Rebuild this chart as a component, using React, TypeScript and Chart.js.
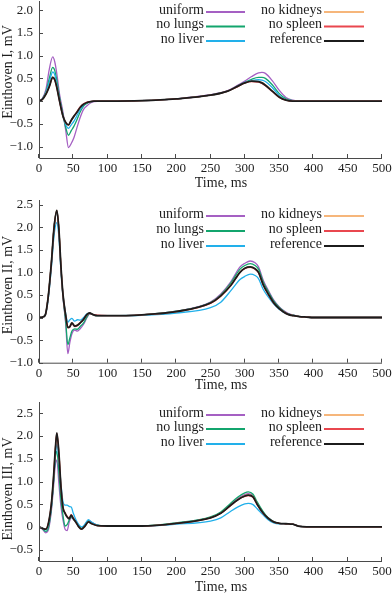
import React, { useEffect, useRef } from "react";
import { Chart, registerables } from "chart.js";

Chart.register(...registerables);

// ---------- series meta ----------
const SERIES_NAMES = ["uniform", "no lungs", "no liver", "no kidneys", "no spleen", "reference"];
const SERIES_COLORS = ["#a560c3", "#13a56d", "#22b0ea", "#f6b67b", "#e9474f", "#1c1c1c"];

const X_TICKS = [0, 50, 100, 150, 200, 250, 300, 350, 400, 450, 500];
const Y_TICKS_I = [-1, -0.5, 0, 0.5, 1, 1.5, 2];
const Y_TICKS_II = [-1, -0.5, 0, 0.5, 1, 1.5, 2, 2.5];
const Y_TICKS_III = [-0.5, 0, 0.5, 1, 1.5, 2, 2.5];

// ---------- Einthoven I ----------
const T1 = [0, 5, 10, 15, 20, 23, 26, 30, 35, 39, 43, 47, 51, 55, 60, 65, 70, 75, 80, 90, 100, 150, 200, 250, 275, 290, 300, 310, 320, 325, 330, 340, 350, 360, 370, 380, 400, 500];
const I_UNIFORM = [0, 0.06, 0.25, 0.7, 0.97, 0.86, 0.6, 0.15, -0.25, -0.65, -1.02, -0.93, -0.8, -0.6, -0.36, -0.18, -0.1, -0.04, -0.01, 0, 0, 0.01, 0.05, 0.14, 0.23, 0.35, 0.44, 0.54, 0.62, 0.63, 0.61, 0.45, 0.24, 0.08, 0.02, 0, 0, 0];
const I_LUNGS = [0, 0.05, 0.2, 0.5, 0.74, 0.67, 0.45, 0.08, -0.3, -0.58, -0.75, -0.65, -0.55, -0.42, -0.24, -0.11, -0.05, -0.02, 0, 0, 0, 0.01, 0.05, 0.13, 0.22, 0.33, 0.41, 0.48, 0.52, 0.52, 0.5, 0.36, 0.17, 0.05, 0.01, 0, 0, 0];
const I_LIVER = [0, 0.05, 0.18, 0.42, 0.64, 0.58, 0.36, 0.02, -0.34, -0.52, -0.6, -0.52, -0.44, -0.33, -0.19, -0.09, -0.03, -0.01, 0, 0, 0, 0.01, 0.05, 0.13, 0.22, 0.33, 0.41, 0.45, 0.47, 0.46, 0.43, 0.3, 0.13, 0.03, 0, 0, 0, 0];
const I_KIDNEYS = [0, 0.04, 0.16, 0.33, 0.53, 0.48, 0.31, 0.01, -0.33, -0.48, -0.53, -0.43, -0.34, -0.25, -0.14, -0.07, -0.03, -0.01, 0, 0, 0, 0.01, 0.05, 0.13, 0.22, 0.33, 0.4, 0.44, 0.43, 0.41, 0.36, 0.23, 0.1, 0.02, 0, 0, 0, 0];
const I_SPLEEN = [0, 0.04, 0.15, 0.32, 0.51, 0.46, 0.29, -0.01, -0.34, -0.48, -0.52, -0.42, -0.33, -0.24, -0.13, -0.06, -0.02, -0.01, 0, 0, 0, 0.01, 0.05, 0.13, 0.22, 0.32, 0.4, 0.43, 0.42, 0.39, 0.34, 0.21, 0.08, 0.02, 0, 0, 0, 0];
const I_REF = [0, 0.04, 0.15, 0.32, 0.52, 0.47, 0.3, 0.0, -0.33, -0.47, -0.52, -0.42, -0.33, -0.25, -0.14, -0.07, -0.03, -0.01, 0, 0, 0, 0.01, 0.05, 0.13, 0.22, 0.33, 0.4, 0.44, 0.43, 0.4, 0.35, 0.22, 0.09, 0.02, 0, 0, 0, 0];

// ---------- Einthoven II ----------
const T2 = [0, 5, 9, 13, 18, 22, 26, 29, 32, 35, 39, 42, 45, 48, 52, 56, 60, 65, 70, 74, 78, 85, 100, 150, 200, 250, 265, 280, 293, 300, 308, 315, 320, 327, 335, 342, 350, 356, 363, 371, 380, 390, 400, 500];
const II_UNIFORM = [0, 0.01, 0.05, 0.4, 1.2, 2.0, 2.36, 1.93, 1.1, 0.45, -0.15, -0.8, -0.55, -0.36, -0.28, -0.3, -0.25, -0.15, 0.0, 0.08, 0.07, 0.04, 0.04, 0.06, 0.14, 0.34, 0.52, 0.8, 1.12, 1.2, 1.25, 1.21, 1.12, 0.82, 0.58, 0.39, 0.24, 0.16, 0.09, 0.05, 0.02, 0.01, 0, 0];
const II_LUNGS = [0, 0.01, 0.05, 0.4, 1.2, 2.0, 2.36, 1.94, 1.11, 0.47, -0.1, -0.6, -0.45, -0.3, -0.25, -0.26, -0.2, -0.12, 0.02, 0.09, 0.07, 0.04, 0.04, 0.06, 0.14, 0.33, 0.5, 0.77, 1.07, 1.15, 1.19, 1.15, 1.07, 0.78, 0.55, 0.37, 0.23, 0.15, 0.08, 0.05, 0.02, 0.01, 0, 0];
const II_LIVER = [0, 0.01, 0.05, 0.36, 1.1, 1.82, 2.1, 1.78, 1.05, 0.5, 0.08, -0.1, -0.05, -0.02, -0.08, -0.05, -0.06, 0.0, 0.08, 0.1, 0.07, 0.04, 0.04, 0.05, 0.1, 0.22, 0.34, 0.6, 0.84, 0.91, 0.96, 0.93, 0.86, 0.62, 0.44, 0.3, 0.18, 0.12, 0.07, 0.04, 0.02, 0.01, 0, 0];
const II_KIDNEYS = [0, 0.01, 0.05, 0.41, 1.21, 2.01, 2.37, 1.96, 1.14, 0.5, 0.04, -0.21, -0.19, -0.12, -0.18, -0.16, -0.11, -0.04, 0.07, 0.1, 0.07, 0.04, 0.04, 0.06, 0.13, 0.32, 0.48, 0.73, 1.01, 1.09, 1.12, 1.08, 1.0, 0.73, 0.5, 0.33, 0.2, 0.13, 0.07, 0.04, 0.02, 0.01, 0, 0];
const II_SPLEEN = [0, 0.01, 0.05, 0.4, 1.19, 1.99, 2.36, 1.94, 1.12, 0.49, 0.03, -0.23, -0.21, -0.13, -0.2, -0.18, -0.12, -0.04, 0.06, 0.09, 0.07, 0.05, 0.04, 0.06, 0.13, 0.31, 0.47, 0.71, 1.0, 1.08, 1.11, 1.07, 0.99, 0.71, 0.49, 0.32, 0.2, 0.13, 0.07, 0.04, 0.02, 0.01, 0, 0];
const II_REF = [0, 0.01, 0.05, 0.4, 1.2, 2.0, 2.37, 1.95, 1.13, 0.5, 0.04, -0.22, -0.2, -0.12, -0.19, -0.17, -0.12, -0.04, 0.07, 0.1, 0.07, 0.04, 0.04, 0.06, 0.13, 0.32, 0.48, 0.72, 1.0, 1.09, 1.12, 1.08, 1.0, 0.72, 0.5, 0.33, 0.2, 0.13, 0.07, 0.04, 0.02, 0.01, 0, 0];

// ---------- Einthoven III ----------
const T3 = [0, 5, 10, 14, 18, 21, 24, 26, 29, 32, 35, 38, 41, 44, 47, 50, 54, 58, 62, 67, 72, 77, 85, 100, 150, 200, 250, 265, 278, 290, 300, 305, 312, 318, 327, 334, 342, 350, 360, 370, 380, 390, 400, 500];
const III_UNIFORM = [0, -0.05, -0.13, -0.05, 0.35, 0.85, 1.4, 1.47, 0.95, 0.45, 0.15, -0.05, -0.08, 0.1, 0.2, 0.2, 0.12, 0.02, -0.04, 0.05, 0.14, 0.1, 0.04, 0.02, 0.02, 0.08, 0.21, 0.31, 0.48, 0.63, 0.71, 0.73, 0.69, 0.52, 0.31, 0.2, 0.11, 0.08, 0.07, 0.06, 0.01, 0, 0, 0];
const III_LUNGS = [0, -0.04, -0.1, 0.0, 0.4, 0.95, 1.55, 1.66, 1.2, 0.6, 0.25, 0.02, 0.05, 0.15, 0.22, 0.18, 0.12, 0.02, -0.03, 0.05, 0.13, 0.09, 0.04, 0.02, 0.02, 0.09, 0.22, 0.33, 0.5, 0.66, 0.75, 0.77, 0.72, 0.55, 0.33, 0.2, 0.12, 0.08, 0.07, 0.06, 0.01, 0, 0, 0];
const III_LIVER = [0, -0.03, -0.06, 0.08, 0.45, 1.0, 1.6, 1.82, 1.5, 0.95, 0.55, 0.48, 0.48, 0.45, 0.44, 0.3, 0.15, 0.05, 0.0, 0.06, 0.16, 0.1, 0.04, 0.02, 0.02, 0.06, 0.13, 0.2, 0.33, 0.44, 0.51, 0.52, 0.49, 0.4, 0.26, 0.16, 0.09, 0.07, 0.07, 0.06, 0.01, 0, 0, 0];
const III_KIDNEYS = [0, -0.03, -0.05, 0.1, 0.5, 1.04, 1.74, 2.05, 1.62, 0.9, 0.44, 0.31, 0.23, 0.19, 0.26, 0.19, 0.1, 0.0, -0.05, 0.02, 0.11, 0.07, 0.03, 0.02, 0.02, 0.08, 0.2, 0.3, 0.46, 0.61, 0.69, 0.71, 0.67, 0.51, 0.3, 0.19, 0.11, 0.08, 0.07, 0.06, 0.01, 0, 0, 0];
const III_SPLEEN = [0, -0.03, -0.05, 0.1, 0.5, 1.05, 1.76, 2.06, 1.63, 0.89, 0.43, 0.31, 0.23, 0.19, 0.27, 0.19, 0.1, 0.0, -0.05, 0.02, 0.11, 0.07, 0.03, 0.02, 0.02, 0.08, 0.2, 0.3, 0.45, 0.6, 0.67, 0.69, 0.65, 0.49, 0.29, 0.19, 0.11, 0.08, 0.07, 0.06, 0.01, 0, 0, 0];
const III_REF = [0, -0.03, -0.05, 0.1, 0.5, 1.05, 1.75, 2.07, 1.62, 0.88, 0.42, 0.3, 0.22, 0.18, 0.26, 0.18, 0.1, 0.0, -0.05, 0.02, 0.11, 0.07, 0.03, 0.02, 0.02, 0.08, 0.2, 0.3, 0.46, 0.6, 0.68, 0.7, 0.66, 0.5, 0.3, 0.19, 0.11, 0.08, 0.07, 0.06, 0.01, 0, 0, 0];

const FONT_FAMILY = '"Liberation Serif", "Times New Roman", serif';
const TEXT_COLOR = "#1e1e1e";
const AXIS_COLOR = "#4a4a4a";

type Panel = {
  top: number;
  height: number;
  padTop: number;
  xAxisH: number;
  min: number;
  max: number;
  yTicks: number[];
  t: number[];
  series: number[][];
  yTitle: string;
  yTitleY: number;
  xTitleY: number;
  legendY: number[];
};

const PANELS: Panel[] = [
  {
    top: 0, height: 195, padTop: 1, xAxisH: 37, min: -1.25, max: 2.2, yTicks: Y_TICKS_I, t: T1,
    series: [I_UNIFORM, I_LUNGS, I_LIVER, I_KIDNEYS, I_SPLEEN, I_REF],
    yTitle: "Einthoven I, mV", yTitleY: 72, xTitleY: 183, legendY: [10, 24.5, 39],
  },
  {
    top: 195, height: 197, padTop: 5, xAxisH: 29.3, min: -1.0, max: 2.6, yTicks: Y_TICKS_II, t: T2,
    series: [II_UNIFORM, II_LUNGS, II_LIVER, II_KIDNEYS, II_SPLEEN, II_REF],
    yTitle: "Einthoven II, mV", yTitleY: 90, xTitleY: 190.5, legendY: [19, 34, 49],
  },
  {
    top: 392, height: 205, padTop: 10, xAxisH: 36, min: -0.75, max: 2.75, yTicks: Y_TICKS_III, t: T3,
    series: [III_UNIFORM, III_LUNGS, III_LIVER, III_KIDNEYS, III_SPLEEN, III_REF],
    yTitle: "Einthoven III, mV", yTitleY: 97, xTitleY: 195.5, legendY: [21, 35, 50],
  },
];

const fmtY = (v: number) => (v === 0 ? "0" : (v < 0 ? "\u2212" : "") + Math.abs(v).toFixed(1));

const decorPlugin = {
  id: "decor",
  afterDraw(chart: any, _args: any, opts: any) {
    const { ctx, chartArea, scales } = chart;
    const { left, right, top, bottom } = chartArea;
    const x = scales.x;
    const y = scales.y;
    ctx.save();
    // axes
    ctx.strokeStyle = AXIS_COLOR;
    ctx.lineWidth = 1;
    ctx.beginPath();
    ctx.moveTo(left + 0.5, top);
    ctx.lineTo(left + 0.5, bottom + 0.5);
    ctx.lineTo(right, bottom + 0.5);
    ctx.stroke();
    // inward ticks
    ctx.beginPath();
    x.ticks.forEach((tk: any) => {
      const px = Math.round(x.getPixelForValue(tk.value)) - 0.5;
      ctx.moveTo(px, bottom);
      ctx.lineTo(px, bottom - 4);
    });
    y.ticks.forEach((tk: any) => {
      const py = Math.round(y.getPixelForValue(tk.value)) + 0.5;
      ctx.moveTo(left, py);
      ctx.lineTo(left + 4, py);
    });
    ctx.stroke();

    // axis titles
    ctx.fillStyle = TEXT_COLOR;
    ctx.font = `14px ${FONT_FAMILY}`;
    ctx.textAlign = "center";
    ctx.textBaseline = "middle";
    ctx.fillText("Time, ms", 221, opts.xTitleY);
    ctx.save();
    ctx.translate(8.5, opts.yTitleY);
    ctx.rotate(-Math.PI / 2);
    ctx.fillText(opts.yTitle, 0, 0);
    ctx.restore();

    // legend
    const cols = [
      { textRight: 204, lineFrom: 206, lineTo: 245 },
      { textRight: 322, lineFrom: 324, lineTo: 364 },
    ];
    ctx.textAlign = "right";
    SERIES_NAMES.forEach((name, i) => {
      const col = cols[Math.floor(i / 3)];
      const ry = opts.legendY[i % 3];
      ctx.fillStyle = TEXT_COLOR;
      ctx.fillText(name, col.textRight, ry);
      ctx.strokeStyle = SERIES_COLORS[i];
      ctx.lineWidth = 2;
      ctx.beginPath();
      ctx.moveTo(col.lineFrom, ry + 2);
      ctx.lineTo(col.lineTo, ry + 2);
      ctx.stroke();
    });
    ctx.restore();
  },
};

function PanelChart({ panel }: { panel: Panel }) {
  const ref = useRef<HTMLCanvasElement | null>(null);
  useEffect(() => {
    if (!ref.current) return;
    const datasets = panel.series.map((vals, i) => ({
      label: SERIES_NAMES[i],
      data: panel.t.map((tv, k) => ({ x: tv, y: vals[k] })),
      borderColor: SERIES_COLORS[i],
      backgroundColor: SERIES_COLORS[i],
      borderWidth: i === 5 ? 1.8 : 1.3,
      pointRadius: 0,
      fill: false,
      cubicInterpolationMode: "monotone" as const,
      order: 5 - i,
    }));
    const chart = new Chart(ref.current, {
      type: "line",
      data: { datasets },
      plugins: [decorPlugin],
      options: {
        animation: false,
        responsive: false,
        devicePixelRatio: 1,
        layout: { padding: { left: 0, right: 10, top: panel.padTop, bottom: 0 } },
        plugins: {
          legend: { display: false },
          tooltip: { enabled: false },
          // @ts-ignore
          decor: { yTitle: panel.yTitle, yTitleY: panel.yTitleY, xTitleY: panel.xTitleY, legendY: panel.legendY },
        },
        scales: {
          x: {
            type: "linear",
            min: 0,
            max: 500,
            grid: { display: false, drawTicks: false },
            border: { display: false },
            afterBuildTicks: (s: any) => {
              s.ticks = X_TICKS.map((v) => ({ value: v }));
            },
            afterFit: (s: any) => {
              s.height = panel.xAxisH;
              s.paddingLeft = 0;
              s.paddingRight = 0;
            },
            ticks: {
              autoSkip: false,
              maxRotation: 0,
              padding: 3,
              color: TEXT_COLOR,
              font: { family: FONT_FAMILY, size: 13 },
              callback: (v: any) => String(v),
            },
          },
          y: {
            type: "linear",
            min: panel.min,
            max: panel.max,
            grid: { display: false, drawTicks: false },
            border: { display: false },
            afterBuildTicks: (s: any) => {
              s.ticks = panel.yTicks.map((v) => ({ value: v }));
            },
            afterFit: (s: any) => {
              s.width = 39;
              s.paddingTop = 0;
              s.paddingBottom = 0;
            },
            ticks: {
              autoSkip: false,
              padding: 6,
              color: TEXT_COLOR,
              font: { family: FONT_FAMILY, size: 13 },
              callback: (v: any) => fmtY(Number(v)),
            },
          },
        },
      } as any,
    });
    return () => chart.destroy();
  }, [panel]);
  return (
    <canvas
      ref={ref}
      width={392}
      height={panel.height}
      style={{ position: "absolute", left: 0, top: panel.top, width: 392, height: panel.height }}
    />
  );
}

export default function App() {
  return (
    <div style={{ position: "absolute", left: 0, top: 0, width: 392, height: 597, background: "#fff" }}>
      {PANELS.map((p, i) => (
        <PanelChart key={i} panel={p} />
      ))}
    </div>
  );
}
